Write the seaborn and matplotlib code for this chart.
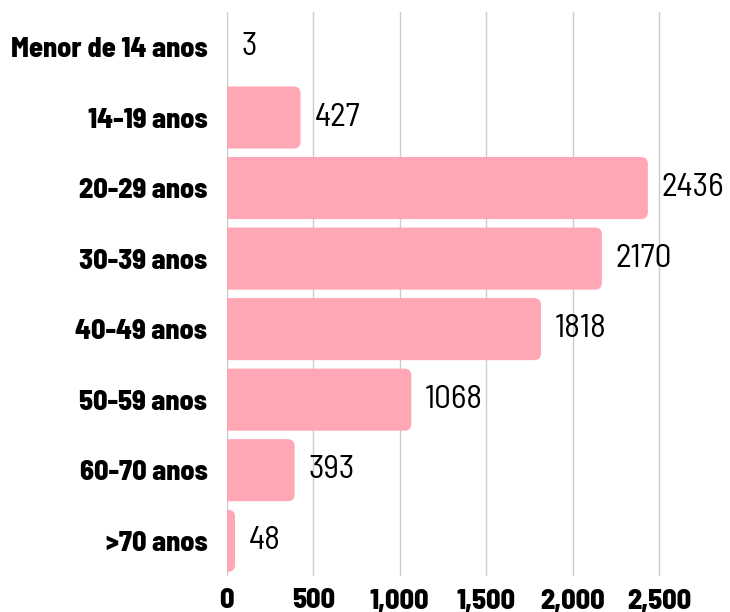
import matplotlib
matplotlib.use("Agg")
import matplotlib.pyplot as plt
import seaborn as sns
import pandas as pd
from matplotlib.patches import FancyBboxPatch
from matplotlib.ticker import FuncFormatter, MultipleLocator

categories = ["Menor de 14 anos", "14-19 anos", "20-29 anos", "30-39 anos",
              "40-49 anos", "50-59 anos", "60-70 anos", ">70 anos"]
values = [3, 427, 2436, 2170, 1818, 1068, 393, 48]

sns.set_theme(style="white")
plt.rcParams['font.family'] = ['Barlow Semi Condensed', 'DejaVu Sans']

df = pd.DataFrame({"cat": categories, "val": values})
bar_color = "#FFA7B4"

W, H = 730, 612
left_px, top_px, bottom_px = 226.7, 11.7, 576.0
fig = plt.figure(figsize=(W / 100, H / 100), dpi=100)
ax = fig.add_axes([left_px / W, 1 - bottom_px / H, 1 - left_px / W,
                   (bottom_px - top_px) / H])
sns.barplot(data=df, x="val", y="cat", orient="h", color=bar_color,
            width=0.88, saturation=1, ax=ax, zorder=2)

xmax = (W - left_px) / 0.1729
ax.set_xlim(0, xmax)
xpp = xmax / (W - left_px)
ypp = len(values) / (bottom_px - top_px)
r_px = 7
for p in list(ax.patches):
    x, y = p.get_x(), p.get_y()
    w, h = p.get_width(), p.get_height()
    p.remove()
    fb = FancyBboxPatch((x - r_px * xpp * 2, y), w + r_px * xpp * 2, h,
                        boxstyle=f"round,pad=0,rounding_size={r_px * xpp}",
                        mutation_aspect=ypp / xpp, facecolor=bar_color,
                        edgecolor="none", zorder=2, clip_on=True)
    ax.add_patch(fb)

for i, v in enumerate(values):
    ax.annotate(str(v), xy=(v, i), xytext=(10, 0), textcoords="offset points",
                ha="left", va="center", fontsize=24, color="black",
                fontweight="normal")

ax.xaxis.set_major_locator(MultipleLocator(500))
ax.xaxis.set_major_formatter(FuncFormatter(lambda v, _: f"{int(v):,}"))
ax.grid(axis="x", color="#cccccc", linewidth=1, zorder=0)
ax.set_axisbelow(True)
for s in ax.spines.values():
    s.set_visible(False)
ax.set_xlabel("")
ax.set_ylabel("")
ax.tick_params(axis="y", length=0, pad=14, labelsize=20.3)
ax.tick_params(axis="x", length=0, pad=9, labelsize=20.3)
for lab in ax.get_yticklabels() + ax.get_xticklabels():
    lab.set_fontweight(800)
    lab.set_color("black")

fig.savefig("out.png", dpi=100)
